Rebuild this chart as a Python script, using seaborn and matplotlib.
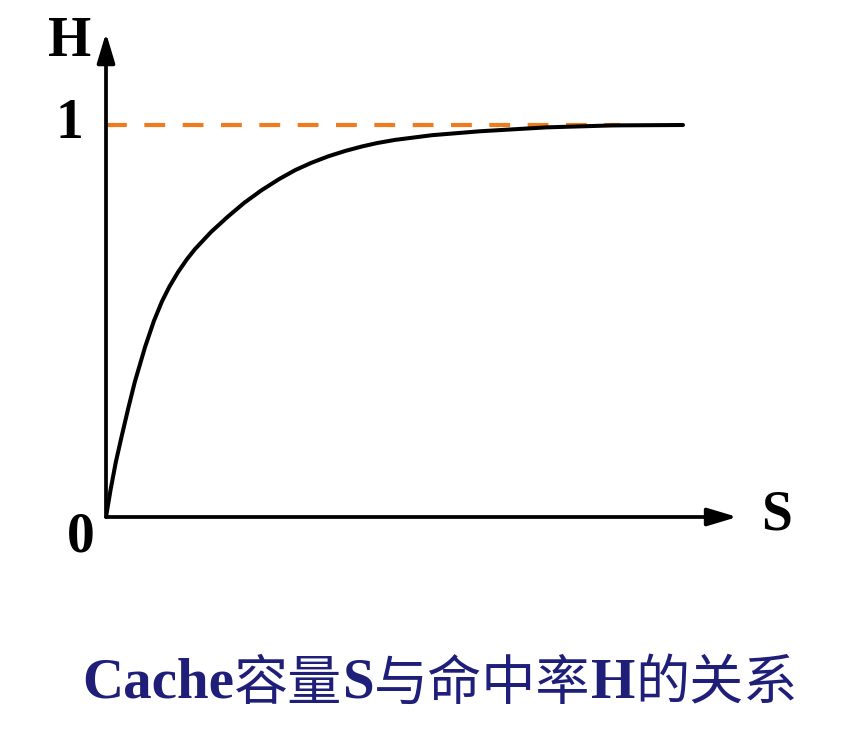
import numpy as np
import pandas as pd
import seaborn as sns
import matplotlib.pyplot as plt

# Cache capacity S vs hit rate H
cache_size = [0.0, 0.08, 0.17, 0.27, 0.39, 0.50, 0.60, 0.68, 0.83, 0.97,
              1.10, 1.25, 1.40, 1.54, 1.82, 2.11, 2.40, 2.70, 3.00, 3.28,
              3.55, 3.85, 4.15, 4.43, 4.70, 5.01, 5.65, 6.48, 7.64, 8.79, 10.0]
hit_rate = [0.0, 0.070, 0.140, 0.205, 0.280, 0.345, 0.395, 0.435, 0.500, 0.550,
            0.588, 0.625, 0.657, 0.683, 0.727, 0.766, 0.802, 0.834, 0.862, 0.885,
            0.903, 0.920, 0.934, 0.945, 0.954, 0.962, 0.974, 0.984, 0.994, 0.999, 1.0]

# asymptote H = 1 (dashed)
ref_size = [0.0, 8.9]
ref_rate = [1.0, 1.0]

# title pieces: (text, is_latin)
title_parts = [('Cache', True), ('容量', False), ('S', True), ('与命中率', False),
               ('H', True), ('的关系', False)]
TITLE_COLOR = '#1f1f7a'
DASH_COLOR = '#f07a1e'

sns.set_theme(style='white')
plt.rcParams['font.family'] = ['Liberation Serif', 'Noto Sans CJK SC', 'DejaVu Sans']
plt.rcParams['text.color'] = 'black'

W, H = 843, 745
fig = plt.figure(figsize=(W / 100, H / 100), dpi=100)

# axes placed so that S=0..10 -> px 106..683 and H=0..1 -> px 517..125
px_per_s = (683 - 106) / 10
px_per_h = 517 - 125
xmax, ymax = 11.0, 1.25
ax = fig.add_axes([106 / W, (H - 517) / H, xmax * px_per_s / W, ymax * px_per_h / H])
ax.set_xlim(0, xmax)
ax.set_ylim(0, ymax)
ax.axis('off')

curve = pd.DataFrame({'S': cache_size, 'H': hit_rate})
ref = pd.DataFrame({'S': ref_size, 'H': ref_rate})

sns.lineplot(data=ref, x='S', y='H', ax=ax, color=DASH_COLOR, lw=3.0,
             linestyle=(0, (5, 4.2)), zorder=2)
sns.lineplot(data=curve, x='S', y='H', ax=ax, color='black', lw=2.9,
             zorder=3, solid_capstyle='round', solid_joinstyle='round')

# axis arrows
arrow = dict(arrowstyle='-|>,head_length=0.9,head_width=0.27', lw=2.7,
             color='black', mutation_scale=20, shrinkA=0, shrinkB=0)
ax.annotate('', xy=(10.94, 0), xytext=(0, 0), arrowprops=arrow,
            annotation_clip=False)
ax.annotate('', xy=(0, 1.235), xytext=(0, 0), arrowprops=arrow,
            annotation_clip=False)


def _label(txt, x, y, size=40):
    fig.text(x / W, 1 - y / H, txt, ha='center', va='center', color='black',
             fontsize=size, fontweight='bold', family='Liberation Serif')


_label('H', 70, 42)
_label('1', 69, 124)
_label('0', 81, 538)
_label('S', 776, 516)

# Title: latin bold serif, CJK in a lighter sans, laid out piece by piece
renderer = fig.canvas.get_renderer()
pieces = []
for txt, latin in title_parts:
    if latin:
        t = fig.text(0, 0, txt, fontsize=41, fontweight='bold',
                     family='Liberation Serif', color=TITLE_COLOR,
                     va='center', ha='left')
    else:
        t = fig.text(0, 0, txt, fontsize=39, fontweight='medium',
                     family='Noto Sans CJK SC', color=TITLE_COLOR,
                     va='center', ha='left')
    pieces.append((t, t.get_window_extent(renderer).width))

total = sum(w for _, w in pieces)
x = 440 - total / 2
for t, w in pieces:
    t.set_position((x / W, 1 - 684 / H))
    x += w

fig.savefig('out.png', dpi=100, facecolor='white')
